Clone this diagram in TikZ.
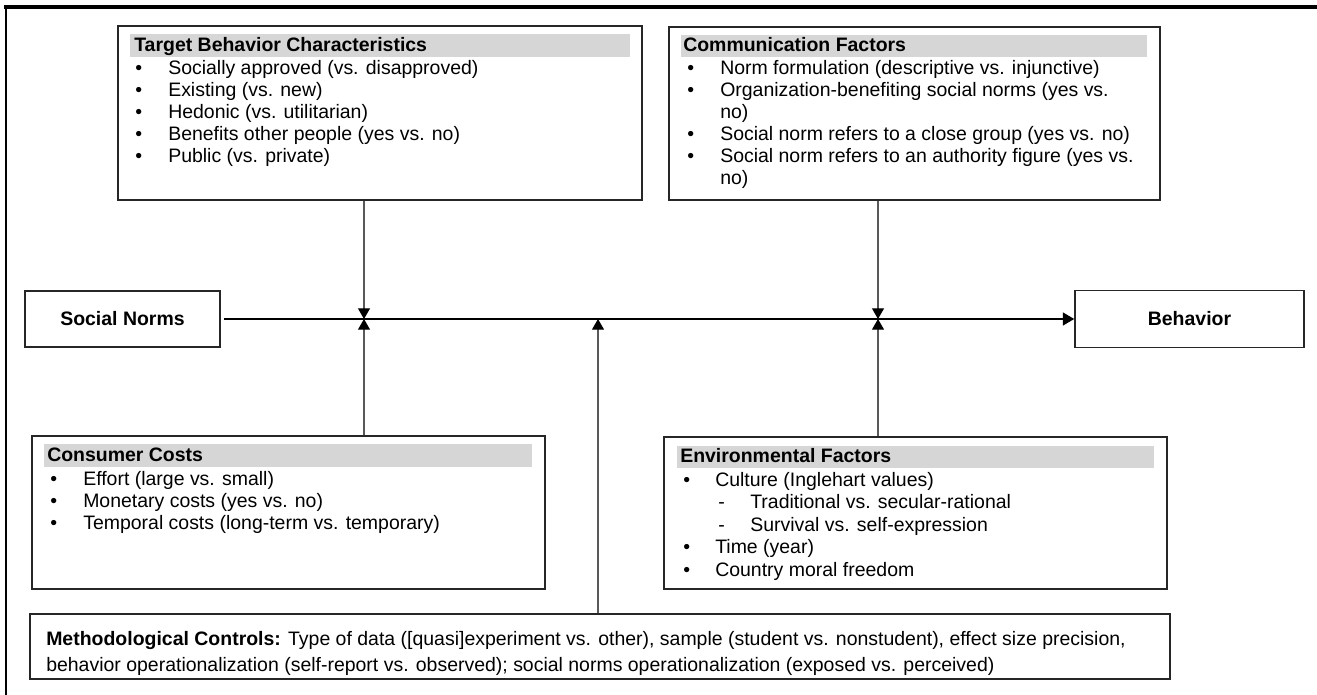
\documentclass[tikz,border=0pt]{standalone}
\usepackage{fontspec}
\setmainfont{Liberation Sans}
\usetikzlibrary{arrows.meta}
\tikzset{
  boxnode/.style={draw=black!85, line width=1.1pt, rectangle, inner sep=0pt},
  hdrfill/.style={fill=black!16},
  txt/.style={anchor=base west, inner sep=0pt, font=\fontsize{14.6pt}{16.5pt}\selectfont},
  hdr/.style={txt, font=\fontsize{14.6pt}{16.5pt}\selectfont\bfseries},
  modline/.style={draw=black!65, line width=0.8pt, -{Triangle[width=9pt,length=8pt,color=black]}},
  mainline/.style={draw=black, line width=1.5pt, -{Triangle[width=9.5pt,length=8.5pt]}},
}
\begin{document}
\begin{tikzpicture}[x=0.75pt,y=-0.75pt]
\useasboundingbox (0,0) rectangle (1317,695);
% outer frame
\draw[line width=2.4pt] (4,7) -- (1317,7);
\draw[line width=1.8pt] (6,6) -- (6,695);

% boxes
\node[boxnode, minimum width=393pt, minimum height=130.5pt] (tb) at (380,113) {};
\node[boxnode, minimum width=368.25pt, minimum height=129.75pt] (cf) at (914.5,113.5) {};
\node[boxnode, minimum width=146.25pt, minimum height=42pt, font=\fontsize{14.6pt}{16.5pt}\selectfont\bfseries] (sn) at (122.5,319) {Social Norms};
\node[boxnode, minimum width=171.75pt, minimum height=42.75pt, font=\fontsize{14.6pt}{16.5pt}\selectfont\bfseries] (bh) at (1189.5,319) {Behavior};
\node[boxnode, minimum width=384.75pt, minimum height=114.75pt] (cc) at (288.5,512.5) {};
\node[boxnode, minimum width=377.25pt, minimum height=114pt] (ef) at (915.5,513) {};
\node[boxnode, minimum width=855pt, minimum height=48.75pt] (mc) at (600,646.5) {};

% header bands
\fill[hdrfill] (130,34) rectangle (630,57);
\fill[hdrfill] (681,35) rectangle (1147,57);
\fill[hdrfill] (44,444) rectangle (532,467);
\fill[hdrfill] (677,446) rectangle (1154,468);

% Target Behavior Characteristics
\node[hdr] (tbh) at (134,52) {Target Behavior Characteristics};
\node[txt] (tb1b) at (135,75) {•};  \node[txt] (tb1) at (168,75) {Socially approved (vs. disapproved)};
\node[txt] (tb2b) at (135,97) {•};  \node[txt] (tb2) at (168,97) {Existing (vs. new)};
\node[txt] (tb3b) at (135,119) {•}; \node[txt] (tb3) at (168,119) {Hedonic (vs. utilitarian)};
\node[txt] (tb4b) at (135,141) {•}; \node[txt] (tb4) at (168,141) {Benefits other people (yes vs. no)};
\node[txt] (tb5b) at (135,163) {•}; \node[txt] (tb5) at (168,163) {Public (vs. private)};

% Communication Factors
\node[hdr] (cfh) at (683,52) {Communication Factors};
\node[txt] (cf1b) at (687,75) {•};  \node[txt] (cf1) at (720,75) {Norm formulation (descriptive vs. injunctive)};
\node[txt] (cf2b) at (687,97) {•};  \node[txt] (cf2) at (720,97) {Organization-benefiting social norms (yes vs.};
\node[txt] (cf2c) at (720,119) {no)};
\node[txt] (cf3b) at (687,141) {•}; \node[txt] (cf3) at (720,141) {Social norm refers to a close group (yes vs. no)};
\node[txt] (cf4b) at (687,163) {•}; \node[txt] (cf4) at (720,163) {Social norm refers to an authority figure (yes vs.};
\node[txt] (cf4c) at (720,185) {no)};

% Consumer Costs
\node[hdr] (cch) at (47,461) {Consumer Costs};
\node[txt] (cc1b) at (50,485) {•}; \node[txt] (cc1) at (83,485) {Effort (large vs. small)};
\node[txt] (cc2b) at (50,507) {•}; \node[txt] (cc2) at (83,507) {Monetary costs (yes vs. no)};
\node[txt] (cc3b) at (50,529) {•}; \node[txt] (cc3) at (83,529) {Temporal costs (long-term vs. temporary)};

% Environmental Factors
\node[hdr] (efh) at (680,462) {Environmental Factors};
\node[txt] (ef1b) at (683,486) {•}; \node[txt] (ef1) at (715,486) {Culture (Inglehart values)};
\node[txt] (ef2b) at (718,508) {-}; \node[txt] (ef2) at (750,508) {Traditional vs. secular-rational};
\node[txt] (ef3b) at (718,531) {-}; \node[txt] (ef3) at (750,531) {Survival vs. self-expression};
\node[txt] (ef4b) at (683,553) {•}; \node[txt] (ef4) at (715,553) {Time (year)};
\node[txt] (ef5b) at (683,576) {•}; \node[txt] (ef5) at (715,576) {Country moral freedom};

% Methodological Controls
\node[txt] (mc1) at (46,645) {\textbf{Methodological Controls:} Type of data ([quasi]experiment vs. other), sample (student vs. nonstudent), effect size precision,};
\node[txt] (mc2) at (46,671) {behavior operationalization (self-report vs. observed); social norms operationalization (exposed vs. perceived)};

% junctions on the main line
\coordinate (j1) at (364,319);
\coordinate (j2) at (878,319);
\coordinate (j3) at (598,319);

% connectors
\draw[mainline] ([xshift=2.25pt]sn.east) -- (bh.west);
\draw[modline] (tb.south -| j1) -- (j1);
\draw[modline] (cf.south -| j2) -- (j2);
\draw[modline] (cc.north -| j1) -- (j1);
\draw[modline] (ef.north -| j2) -- (j2);
\draw[modline] (mc.north -| j3) -- (j3);
\end{tikzpicture}
\end{document}
